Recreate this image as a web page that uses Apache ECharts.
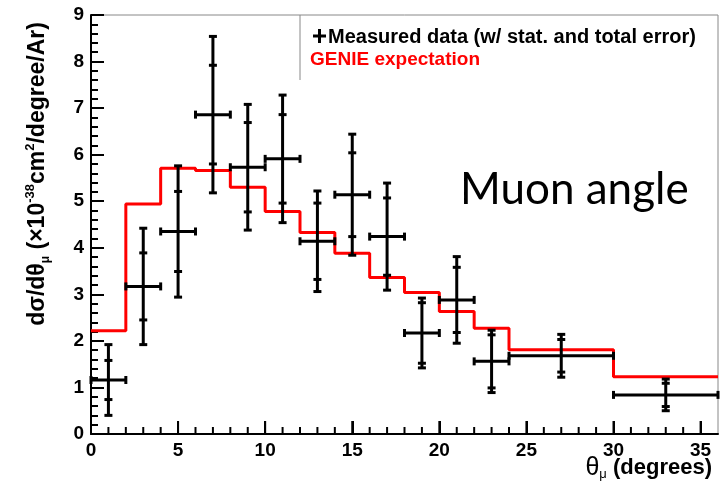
<!DOCTYPE html>
<html>
<head>
<meta charset="utf-8">
<script src="https://cdn.jsdelivr.net/npm/echarts@6/dist/echarts.min.js"></script>
<style>
html, body { margin: 0; padding: 0; background: #fff; }
#container { width: 724px; height: 485px; }
</style>
</head>
<body>
<div id="container"></div>
<script>
// bin edges (degrees)
var binLo = [0, 2, 4, 6, 8, 10, 12, 14, 16, 18, 20, 22, 24, 30];
var binHi = [2, 4, 6, 8, 10, 12, 14, 16, 18, 20, 22, 24, 30, 36];
// GENIE expectation per bin
var genie = [2.22, 4.94, 5.71, 5.66, 5.30, 4.78, 4.33, 3.88, 3.36, 3.04, 2.63, 2.27, 1.81, 1.23];
// measured points
var dataX = [1, 3, 5, 7, 9, 11, 13, 15, 17, 19, 21, 23, 27, 33];
var dataY = [1.16, 3.17, 4.35, 6.86, 5.73, 5.91, 4.14, 5.14, 4.24, 2.17, 2.88, 1.56, 1.68, 0.84];
var statErr = [0.42, 0.72, 0.86, 1.06, 0.96, 0.95, 0.82, 0.90, 0.83, 0.65, 0.70, 0.57, 0.35, 0.25];
var totErr = [0.76, 1.25, 1.41, 1.68, 1.35, 1.37, 1.08, 1.30, 1.15, 0.75, 0.93, 0.67, 0.46, 0.34];

var xTickLabels = ['0', '5', '10', '15', '20', '25', '30', '35'];
var xMajorTicks = [0, 5, 10, 15, 20, 25, 30, 35];
var xMinorTicks = [1, 2, 3, 4, 6, 7, 8, 9, 11, 12, 13, 14, 16, 17, 18, 19, 21, 22, 23, 24, 26, 27, 28, 29, 31, 32, 33, 34];

(function () {
    var dom = document.getElementById('container');
    var myChart = echarts.init(dom);

    var stepData = [];
    for (var i = 0; i < genie.length; i++) {
        stepData.push([binLo[i], genie[i]]);
    }
    stepData.push([binHi[binHi.length - 1], genie[genie.length - 1]]);

    var errData = [];
    for (var j = 0; j < dataX.length; j++) {
        errData.push([dataX[j], dataY[j], binLo[j], binHi[j], statErr[j], totErr[j]]);
    }

    var tickData = [];
    xMajorTicks.forEach(function (v) { tickData.push([v, 0, 1]); });
    xMinorTicks.forEach(function (v) { tickData.push([v, 0, 0]); });

    function renderErr(params, api) {
        var x = api.value(0), y = api.value(1);
        var c = api.coord([x, y]);
        var lo = api.coord([api.value(2), y]);
        var hi = api.coord([api.value(3), y]);
        var sTop = api.coord([x, y + api.value(4)]);
        var sBot = api.coord([x, y - api.value(4)]);
        var tTop = api.coord([x, y + api.value(5)]);
        var tBot = api.coord([x, y - api.value(5)]);
        var st = { stroke: '#000', lineWidth: 3 };
        var cap = 4;
        function seg(x1, y1, x2, y2) {
            return { type: 'line', shape: { x1: x1, y1: y1, x2: x2, y2: y2 }, style: st };
        }
        return {
            type: 'group',
            children: [
                seg(lo[0], c[1], hi[0], c[1]),
                seg(c[0], tTop[1], c[0], tBot[1]),
                seg(lo[0], c[1] - cap, lo[0], c[1] + cap),
                seg(hi[0], c[1] - cap, hi[0], c[1] + cap),
                seg(c[0] - cap, tTop[1], c[0] + cap, tTop[1]),
                seg(c[0] - cap, tBot[1], c[0] + cap, tBot[1]),
                seg(c[0] - cap, sTop[1], c[0] + cap, sTop[1]),
                seg(c[0] - cap, sBot[1], c[0] + cap, sBot[1])
            ]
        };
    }

    function renderTick(params, api) {
        var p = api.coord([api.value(0), api.value(1)]);
        var len = api.value(2) ? 13 : 7;
        return {
            type: 'line',
            shape: { x1: p[0], y1: p[1], x2: p[0], y2: p[1] - len },
            style: { stroke: '#000', lineWidth: 2 }
        };
    }

    var labelFont = {
        color: '#000', fontFamily: 'Liberation Sans', fontWeight: 'bold', fontSize: 19
    };
    var tickStyle = { color: '#000', width: 2 };

    var option = {
        animation: false,
        backgroundColor: '#fff',
        grid: {
            left: 91, right: 6, top: 15, bottom: 51,
            show: true, borderColor: '#888', borderWidth: 1, backgroundColor: 'transparent'
        },
        xAxis: {
            type: 'value', min: 0, max: 36, interval: 5,
            axisLine: { show: true, onZero: false, lineStyle: { color: '#000', width: 2 } },
            axisTick: { show: true, inside: true, length: 13, lineStyle: tickStyle },
            splitLine: { show: false },
            axisLabel: Object.assign({ margin: 7, showMaxLabel: false, formatter: function (v) {
                return xTickLabels[v / 5] || '';
            } }, labelFont)
        },
        yAxis: {
            type: 'value', min: 0, max: 9, interval: 1,
            axisLine: { show: true, onZero: false, lineStyle: { color: '#000', width: 2 } },
            axisTick: { show: true, inside: true, length: 13, lineStyle: tickStyle },
            minorTick: { show: true, splitNumber: 5, length: 7, lineStyle: tickStyle },
            splitLine: { show: false },
            axisLabel: Object.assign({ margin: 7 }, labelFont)
        },
        series: [{
            name: 'GENIE expectation',
            type: 'line',
            step: 'end',
            data: stepData,
            symbol: 'none',
            lineStyle: { color: '#ff0000', width: 3 },
            z: 2
        }, {
            name: 'Measured data',
            type: 'custom',
            data: errData,
            renderItem: renderErr,
            z: 3
        }, {
            name: 'xticks',
            type: 'custom',
            data: tickData,
            renderItem: renderTick,
            silent: true,
            clip: false,
            z: 4
        }],
        graphic: [{
            type: 'line',
            shape: { x1: 300, y1: 15, x2: 300, y2: 80 },
            style: { stroke: '#888', lineWidth: 1 }
        }, {
            type: 'line',
            shape: { x1: 313, y1: 36, x2: 326, y2: 36 },
            style: { stroke: '#000', lineWidth: 3 }
        }, {
            type: 'line',
            shape: { x1: 319.5, y1: 29, x2: 319.5, y2: 43 },
            style: { stroke: '#000', lineWidth: 3 }
        }, {
            type: 'text', x: 328, y: 37,
            style: {
                text: 'Measured data (w/ stat. and total error)',
                fill: '#000', font: 'bold 20px "Liberation Sans"',
                align: 'left', verticalAlign: 'middle'
            }
        }, {
            type: 'text', x: 310, y: 60,
            style: {
                text: 'GENIE expectation',
                fill: '#ff0000', font: 'bold 19px "Liberation Sans"',
                align: 'left', verticalAlign: 'middle'
            }
        }, {
            type: 'text', x: 460, y: 190,
            style: {
                text: 'Muon angle',
                fill: '#000', font: '44px Lato',
                align: 'left', verticalAlign: 'middle'
            }
        }, {
            type: 'text', x: 712, y: 468, z: 10,
            style: {
                text: '{g|θ}{s|μ}{b| (degrees)}',
                align: 'right', verticalAlign: 'middle',
                rich: {
                    g: { fontFamily: 'Liberation Sans', fontSize: 25, color: '#000', lineHeight: 26 },
                    s: { fontFamily: 'Liberation Sans', fontSize: 13, color: '#000', verticalAlign: 'bottom', lineHeight: 26, padding: [8, 0, 0, 0] },
                    b: { fontFamily: 'Liberation Sans', fontWeight: 'bold', fontSize: 22, color: '#000', lineHeight: 26 }
                }
            }
        }, {
            type: 'text', x: 38, y: 174, rotation: Math.PI / 2, z: 10,
            style: {
                text: '{b|dσ/dθ}{s|μ}{b| (×10}{p|-38}{b|cm}{p|2}{b|/degree/Ar)}',
                align: 'center', verticalAlign: 'middle',
                rich: {
                    b: { fontFamily: 'Liberation Sans', fontWeight: 'bold', fontSize: 23, color: '#000', lineHeight: 28 },
                    s: { fontFamily: 'Liberation Sans', fontWeight: 'bold', fontSize: 12, color: '#000', verticalAlign: 'bottom', lineHeight: 28, padding: [10, 0, 0, 0] },
                    p: { fontFamily: 'Liberation Sans', fontWeight: 'bold', fontSize: 13, color: '#000', verticalAlign: 'top', lineHeight: 28 }
                }
            }
        }]
    };

    myChart.setOption(option, true);
    window.onresize = myChart.resize;
})();
</script>
</body>
</html>
